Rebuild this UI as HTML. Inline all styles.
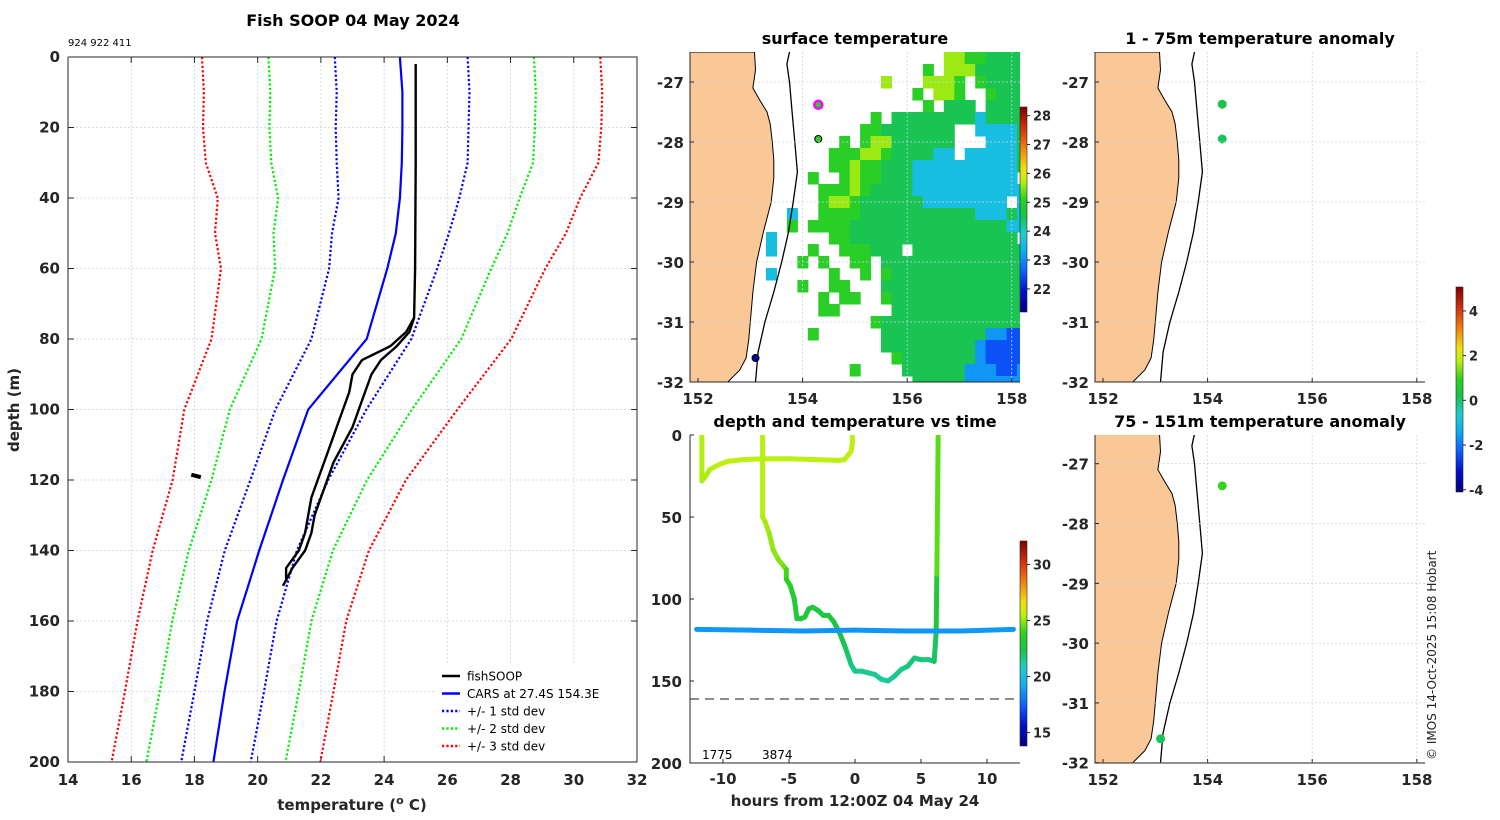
<!DOCTYPE html>
<html><head><meta charset="utf-8">
<style>
html,body{margin:0;padding:0;background:#fff;}
svg{display:block;font-family:"DejaVu Sans","Liberation Sans",sans-serif;}
.tk{font-size:15px;font-weight:bold;fill:#262626;}
.cb{font-size:13px;font-weight:bold;fill:#262626;}
.ttl{font-size:16px;font-weight:bold;fill:#000;}
</style></head>
<body>
<svg id="fig" width="1500" height="820" viewBox="0 0 1500 820" xmlns="http://www.w3.org/2000/svg">
<defs>
<clipPath id="clipMain"><rect x="68" y="57" width="569" height="705"/></clipPath>
<clipPath id="clipSST"><rect x="690" y="52" width="330" height="330"/></clipPath>
<clipPath id="clipA1"><rect x="1095" y="52" width="330" height="330"/></clipPath>
<clipPath id="clipA2"><rect x="1095" y="435" width="330" height="328"/></clipPath>
<clipPath id="clipTime"><rect x="690" y="435" width="330" height="328"/></clipPath>
</defs>
<g id="layer"></g>
<text x="353" y="26" text-anchor="middle" class="ttl">Fish SOOP 04 May 2024</text>
<text x="68" y="46" font-size="10" fill="#000">924 922 411</text>
<text x="855" y="44" text-anchor="middle" class="ttl">surface temperature</text>
<text x="1260" y="44" text-anchor="middle" class="ttl">1 - 75m temperature anomaly</text>
<text x="855" y="427" text-anchor="middle" class="ttl">depth and temperature vs time</text>
<text x="1260" y="427" text-anchor="middle" class="ttl">75 - 151m temperature anomaly</text>
<text x="352" y="810" text-anchor="middle" class="tk" font-size="16">temperature (<tspan font-size="11" dy="-6">o</tspan><tspan dy="6"> C)</tspan></text>
<text transform="translate(19,410) rotate(-90)" text-anchor="middle" class="tk" font-size="16">depth (m)</text>
<text x="855" y="806" text-anchor="middle" class="tk" font-size="16">hours from 12:00Z 04 May 24</text>
<text transform="translate(1436,760) rotate(-90)" font-size="12" fill="#222">© IMOS 14-Oct-2025 15:08 Hobart</text>
</svg>
<script>
// ---------- data ----------
const depthLevels = [0,10,20,30,40,50,60,80,100,120,140,160,180,200];
const climMean = [24.54,24.6,24.57,24.57,24.47,24.2,23.97,23.28,22.0,21.0,20.1,19.5,19.1,18.68];
const climStd  = [2.1,2.1,2.1,2.07,1.91,1.85,1.71,1.58,1.44,1.23,1.14,1.1,1.1,1.1];
const carsDepth = [0,10,20,30,40,50,60,80,100,120,140,150,160,180,200];
const carsTemp  = [24.5,24.58,24.58,24.56,24.5,24.37,24.1,23.45,21.6,20.8,20.05,19.7,19.35,18.95,18.6];
const fishDepth1 = [2,30,60,74,78,82,86,90,95,100,105,110,115,120,125,130,135,140,145,150];
const fishTemp1  = [25.0,25.0,24.98,24.95,24.8,24.4,23.9,23.6,23.4,23.2,23.0,22.7,22.4,22.2,22.0,21.8,21.7,21.5,21.1,20.8];
const fishDepth2 = [74,78,82,86,90,95,100,105,110,115,120,125,130,135,140,145,148];
const fishTemp2  = [24.95,24.7,24.2,23.3,23.0,22.9,22.7,22.5,22.3,22.1,21.9,21.7,21.6,21.5,21.3,20.9,20.9];
const blobDepth = [118.5,119.2];
const blobTemp  = [17.9,18.2];
const xTicks = [14,16,18,20,22,24,26,28,30,32];
const yTicks = [0,20,40,60,80,100,120,140,160,180,200];

const sstRows = [
"........................yyggGGGG",
"......................g.yyyGGGGG",
"..................y...yyyg.gGGGG",
".....................g.yyg..gGGG",
"......................g.GGG.GGGG",
".................g.GGGGGGGGcGGGG",
"................ggGGGGGGG..ccccG",
"..............g.gyyGGGGGG...cccG",
".............gggyygGGGGcc.cccccG",
".............ggyggGGGccccccccccG",
"...........g..gyggGGGcccccccccc.",
"............gggygGGGGccccccccccc",
"............gyygGGGGGGcccccccc.c",
".........c..ggggGGGGGGGGGGGcccGc",
".........g.ggggGGGGGGGGGGGGGGGcc",
".......c.....ggGGGGGGGGGGGGGGGG.",
".......c...g..gggGGG.GGGGGGGGGGG",
"..........g.g..gg.GGGGGGGGGGGGGG",
".......c.....g..g.gGGGGGGGGGGGGG",
"..........g..gg...GGGGGGGGGGGGGG",
"............g.gg..gGGGGGGGGGGGGG",
"............gg.....GGGGGGGGGGGGG",
".................gGGGGGGGGGGGGGG",
"...........g......GGGGGGGGGGbbBB",
"..................GGGGGGGGGbBBBB",
"...................gGGGGGGGbBBBB",
"...............g....GGGGGGbbbBBb",
".....................GGGGGbbbbbb"];
const sstCodes = {y:25.6,g:25.0,G:24.5,c:23.6,b:23.1,B:22.5};

const coastLat = [-26.5,-26.8,-27.1,-27.3,-27.5,-27.7,-28.0,-28.3,-28.6,-29.0,-29.5,-30.0,-30.5,-31.0,-31.3,-31.6,-31.8,-32.0];
const coastLon = [153.08,153.1,153.05,153.18,153.32,153.38,153.42,153.45,153.45,153.4,153.25,153.12,153.05,153.0,152.97,152.92,152.8,152.57];
const shelfLat = [-26.5,-26.7,-27.0,-27.5,-28.0,-28.5,-29.0,-29.5,-30.0,-30.5,-31.0,-31.5,-32.0];
const shelfLon = [153.75,153.7,153.75,153.8,153.85,153.9,153.82,153.73,153.6,153.45,153.28,153.15,153.1];

const sstPtLon = [154.3,154.3,153.1];
const sstPtLat = [-27.38,-27.95,-31.6];
const sstPtVal = [25.0,25.1,21.5];
const anomShallowLon = [154.28,154.28];
const anomShallowLat = [-27.37,-27.95];
const anomShallowVal = [0.2,0.1];
const anomDeepLon = [154.28,153.1];
const anomDeepLat = [-27.37,-31.6];
const anomDeepVal = [1.0,0.1];

const traceAHour = [-11.6,-11.6,-11.3,-11,-10.3,-9.6,-8.5,-7,-5,-3,-1.2,-0.8,-0.5,-0.3,-0.2,-0.2];
const traceADepth = [0,28,25,21,18,16,15,14.5,14.5,15,15.5,15,12,10,5,0];
const traceATemp = [25.5,25.3,25.3,25.4,25.5,25.5,25.5,25.5,25.5,25.5,25.5,25.5,25.5,25.5,25.5,25.5];
const traceBHour = [-7,-7,-6.8,-6.5,-6.2,-5.8,-5.4,-5.2,-5.2,-4.9,-4.6,-4.4,-4.1,-3.8,-3.5,-3.2,-2.8,-2.4,-2,-1.6,-1.2,-0.8,-0.5,-0.3,0,0.5,1,1.5,2,2.5,3,3.5,4,4.5,5,5.6,6,6.15,6.2,6.3];
const traceBDepth = [0,50,53,60,70,76,80,82,88,92,100,112,112,111,106,105,107,110,110,114,120,128,135,140,144,144,145,146,149,150,147,143,141,136,137,137,138,120,85,0];
const traceBTemp = [25.5,25.4,25.3,25.1,25.0,24.9,24.7,24.5,23.8,23.6,23.3,22.9,22.9,22.9,23.0,23.0,22.9,22.8,22.8,22.7,22.5,22.2,22.0,21.8,21.6,21.6,21.6,21.5,21.4,21.4,21.5,21.6,21.7,21.8,21.8,21.8,21.8,22.5,23.5,25.3];
const traceCHour = [-12,-8,-4,0,4,8,12];
const traceCDepth = [118.5,119,119.5,119,119.5,119.5,118.5];
const traceCTemp = [18.8,18.7,18.7,18.6,18.7,18.7,18.8];
const timeXTicks = [-10,-5,0,5,10];
const timeYTicks = [0,50,100,150,200];
const mapLonTicks = [152,154,156,158];
const mapLatTicks = [-27,-28,-29,-30,-31,-32];
const sstCbTicks = [22,23,24,25,26,27,28];
const timeCbTicks = [15,20,25,30];
const anomCbTicks = [-4,-2,0,2,4];

// ---------- helpers ----------
const NS = "http://www.w3.org/2000/svg";
const L = document.getElementById('layer');
function mk(tag, attrs, parent){
  const e = document.createElementNS(NS, tag);
  for (const k in attrs) e.setAttribute(k, attrs[k]);
  (parent||L).appendChild(e);
  return e;
}
const cmapStops = [[0,[0,0,128]],[0.1,[0,16,200]],[0.2,[16,96,255]],[0.3,[16,176,240]],[0.38,[30,205,205]],[0.47,[25,195,75]],[0.55,[45,210,30]],[0.64,[190,240,16]],[0.7,[240,224,16]],[0.8,[240,128,16]],[0.9,[208,48,16]],[1,[128,0,0]]];
function cmap(t){
  t = Math.max(0, Math.min(1, t));
  for (let i=1;i<cmapStops.length;i++){
    if (t <= cmapStops[i][0]){
      const a = cmapStops[i-1], b = cmapStops[i];
      const f = (t-a[0])/(b[0]-a[0]);
      const c = a[1].map((v,j)=>Math.round(v+(b[1][j]-v)*f));
      return 'rgb('+c.join(',')+')';
    }
  }
  return 'rgb(128,0,0)';
}
const defs = document.querySelector('defs');
const grad = mk('linearGradient',{id:'jet',x1:'0',y1:'1',x2:'0',y2:'0'},defs);
cmapStops.forEach(s=>mk('stop',{offset:s[0],'stop-color':cmap(s[0])},grad));

// ---------- main profile plot ----------
const mx = t => 68 + (t-14)*(569/18);
const my = d => 57 + d*(705/200);
const gMain = mk('g',{});


xTicks.forEach(t=>{
  const g = mk('line',{x1:mx(t),x2:mx(t),y1:57,y2:762,stroke:'#c8d2ea','stroke-width':0.8,'stroke-dasharray':'2,2'},gMain);
  
  
  const tx = mk('text',{x:mx(t),y:785,'text-anchor':'middle',class:'tk'},gMain);
  tx.textContent = t;
  
  
  mk('line',{x1:mx(t),x2:mx(t),y1:762,y2:756,stroke:'#262626'},gMain);
  mk('line',{x1:mx(t),x2:mx(t),y1:57,y2:63,stroke:'#262626'},gMain);
});
yTicks.forEach(d=>{
  const g = mk('line',{x1:68,x2:637,y1:my(d),y2:my(d),stroke:'#c8d2ea','stroke-width':0.8,'stroke-dasharray':'2,2'},gMain);
  
  
  const tx = mk('text',{x:60,y:my(d)+5,'text-anchor':'end',class:'tk'},gMain);
  tx.textContent = d;
  
  
  mk('line',{x1:68,x2:74,y1:my(d),y2:my(d),stroke:'#262626'},gMain);
  mk('line',{x1:637,x2:631,y1:my(d),y2:my(d),stroke:'#262626'},gMain);
});
const gLines = mk('g',{'clip-path':'url(#clipMain)'},gMain);
function poly(xs, ys, fx, fy){ return xs.map((v,i)=>fx(v).toFixed(1)+','+fy(ys[i]).toFixed(1)).join(' '); }
const stdColors = ['#0000ff','#00ee00','#ff0000'];
[3,2,1].forEach(n=>{
  [-1,1].forEach(sg=>{
    const temps = climMean.map((m,i)=>m+sg*n*climStd[i]);
    const p = mk('polyline',{points:poly(temps,depthLevels,mx,my),fill:'none',stroke:stdColors[n-1],'stroke-width':2.2,'stroke-dasharray':'2.2,2.2'},gLines);
    
    
  });
});
const cars = mk('polyline',{points:poly(carsTemp,carsDepth,mx,my),fill:'none',stroke:'#0000ff','stroke-width':2.2},gLines);


const f1 = mk('polyline',{points:poly(fishTemp1,fishDepth1,mx,my),fill:'none',stroke:'#000','stroke-width':2.4},gLines);


const f2 = mk('polyline',{points:poly(fishTemp2,fishDepth2,mx,my),fill:'none',stroke:'#000','stroke-width':2.4},gLines);


const f3 = mk('polyline',{points:poly(blobTemp,blobDepth,mx,my),fill:'none',stroke:'#000','stroke-width':4},gLines);


mk('polyline',{points:'68,57 68,762 637,762 637,57 68,57',fill:'none',stroke:'#262626','stroke-width':1},gMain);

const lg = mk('g',{});


mk('rect',{x:437,y:665,width:199,height:96,fill:'#fff',stroke:'#fff'},lg);
const legItems = [['fishSOOP','#000',''],['CARS at 27.4S 154.3E','#0000ff',''],['+/- 1 std dev','#0000ff','2.2,2.2'],['+/- 2 std dev','#00ee00','2.2,2.2'],['+/- 3 std dev','#ff0000','2.2,2.2']];
legItems.forEach((it,i)=>{
  const y = 676 + i*17.5;
  const ln = mk('line',{x1:442,x2:460,y1:y,y2:y,stroke:it[1],'stroke-width':2.4,'stroke-dasharray':it[2]||'none'},lg);
  
  
  const t = mk('text',{x:467,y:y+4.5,'font-size':12,fill:'#000'},lg);
  t.textContent = it[0];
  
  
});

// ---------- maps ----------
function drawMap(x0, y0, h, clipId, name){
  const lonX = lon => x0 + 8 + (lon-152)*52.3;
  const latY = lat => y0 + (-26.5 - lat)*(h/5.5);
  const g = mk('g',{});
  
  
  const inner = mk('g',{'clip-path':'url(#'+clipId+')'},g);
  return {g, inner, lonX, latY};
}
function mapFrame(m, x0, y0, h){
  const {g, lonX, latY} = m;
  mapLonTicks.forEach(lon=>{
    if (lon>152){
      const gl = mk('line',{x1:lonX(lon),x2:lonX(lon),y1:y0,y2:y0+h,stroke:'#c8d2ea','stroke-width':0.8,'stroke-dasharray':'2,2'},g);
      
      
    }
    mk('line',{x1:lonX(lon),x2:lonX(lon),y1:y0+h,y2:y0+h-4,stroke:'#262626'},g);
    const t = mk('text',{x:lonX(lon),y:y0+h+22,'text-anchor':'middle',class:'tk'},g);
    t.textContent = lon;
    
    
  });
  mapLatTicks.forEach(lat=>{
    const gl = mk('line',{x1:x0,x2:x0+330,y1:latY(lat),y2:latY(lat),stroke:'#c8d2ea','stroke-width':0.8,'stroke-dasharray':'2,2'},g);
    
    
    mk('line',{x1:x0,x2:x0+4,y1:latY(lat),y2:latY(lat),stroke:'#262626'},g);
    const t = mk('text',{x:x0-6,y:latY(lat)+6,'text-anchor':'end',class:'tk'},g);
    t.textContent = lat;
    
    
  });
  mk('polyline',{points:`${x0},${y0} ${x0},${y0+h} ${x0+330},${y0+h}`,fill:'none',stroke:'#262626','stroke-width':1},g);
}
function drawCoast(m){
  const {inner, lonX, latY} = m;
  let pts = coastLat.map((la,i)=>lonX(coastLon[i]).toFixed(1)+','+latY(la).toFixed(1));
  const x0 = lonX(151.5);
  const land = mk('polygon',{points:x0+','+latY(-26.5)+' '+pts.join(' ')+' '+x0+','+latY(-32.2),fill:'#f9c896',stroke:'#000','stroke-width':1},inner);
  
  
  const sh = mk('polyline',{points:poly(shelfLon,shelfLat,lonX,latY),fill:'none',stroke:'#000','stroke-width':1.3},inner);
  
  
}

const sst = drawMap(690,52,330,'clipSST','sst-map');
const sstMin = 21.2, sstMax = 28.3;
sstRows.forEach((row,r)=>{
  for (let c=0;c<row.length;c++){
    const ch = row[c];
    if (ch==='.') continue;
    const v = sstCodes[ch];
    const lon = 151.9 + 0.2*c, lat = -26.5 - 0.2*r;
    const x1 = sst.lonX(lon), x2 = sst.lonX(lon+0.2), y1 = sst.latY(lat), y2 = sst.latY(lat-0.2);
    const cell = mk('rect',{x:x1.toFixed(1),y:y1.toFixed(1),width:(x2-x1+0.5).toFixed(1),height:(y2-y1+0.5).toFixed(1),fill:cmap((v-sstMin)/(sstMax-sstMin))},sst.inner);
    
    
  }
});
drawCoast(sst);
sstPtLon.forEach((lon,i)=>{
  const pt = mk('circle',{cx:sst.lonX(lon),cy:sst.latY(sstPtLat[i]),r:i===0?4:3.5,fill:cmap((sstPtVal[i]-sstMin)/(sstMax-sstMin)),stroke:i===0?'#ff00ff':'#000','stroke-width':i===0?2.5:1},sst.inner);
  
  
});
mapFrame(sst,690,52,330);

const anMin = -4.1, anMax = 5.07;
const a1 = drawMap(1095,52,330,'clipA1','anomaly-shallow-map');
drawCoast(a1);
anomShallowLon.forEach((lon,i)=>{
  const pt = mk('circle',{cx:a1.lonX(lon),cy:a1.latY(anomShallowLat[i]),r:4.5,fill:cmap((anomShallowVal[i]-anMin)/(anMax-anMin))},a1.inner);
  
  
});
mapFrame(a1,1095,52,330);
const a2 = drawMap(1095,435,328,'clipA2','anomaly-deep-map');
a2.latY = lat => 435 + (-26.52 - lat)*59.8;
drawCoast(a2);
anomDeepLon.forEach((lon,i)=>{
  const pt = mk('circle',{cx:a2.lonX(lon),cy:a2.latY(anomDeepLat[i]),r:4.5,fill:cmap((anomDeepVal[i]-anMin)/(anMax-anMin))},a2.inner);
  
  
});
mapFrame(a2,1095,435,328);

// ---------- time plot ----------
const tx = h => 855 + h*13.2;
const ty = d => 435 + d*1.64;
const gT = mk('g',{});


const tIn = mk('g',{'clip-path':'url(#clipTime)'},gT);
const tMin = 13.8, tMax = 32.1;
function drawTrace(hs, ds, ts, name){
  for (let i=1;i<hs.length;i++){
    const s = mk('line',{x1:tx(hs[i-1]),y1:ty(ds[i-1]),x2:tx(hs[i]),y2:ty(ds[i]),stroke:cmap(((ts[i-1]+ts[i])/2-tMin)/(tMax-tMin)),'stroke-width':5,'stroke-linecap':'round'},tIn);
    
    
  }
}
drawTrace(traceAHour,traceADepth,traceATemp,'trace-surface-segment');
drawTrace(traceBHour,traceBDepth,traceBTemp,'trace-deep-segment');
drawTrace(traceCHour,traceCDepth,traceCTemp,'trace-fixed-segment');
const dash = mk('line',{x1:690,x2:1020,y1:ty(161),y2:ty(161),stroke:'#666','stroke-width':1.5,'stroke-dasharray':'9,6'},gT);


timeXTicks.forEach(h=>{
  mk('line',{x1:tx(h),x2:tx(h),y1:763,y2:759,stroke:'#262626'},gT);
  const t = mk('text',{x:tx(h),y:784,'text-anchor':'middle',class:'tk'},gT);
  t.textContent = h;
  
  
});
timeYTicks.forEach(d=>{
  mk('line',{x1:690,x2:694,y1:ty(d),y2:ty(d),stroke:'#262626'},gT);
  const t = mk('text',{x:682,y:ty(d)+6,'text-anchor':'end',class:'tk'},gT);
  t.textContent = d;
  
  
});
[['1775',702],['3874',762]].forEach(a=>{
  const t = mk('text',{x:a[1],y:759,'font-size':12,fill:'#000'},gT);
  t.textContent = a[0];
  
  
});
mk('polyline',{points:'690,435 690,763 1020,763',fill:'none',stroke:'#262626','stroke-width':1},gT);

// ---------- colorbars ----------
function colorbar(x, y0, y1, vMin, vMax, ticks, name){
  const g = mk('g',{});
  
  
  mk('rect',{x:x,y:y0,width:7,height:y1-y0,fill:'url(#jet)',stroke:'#262626','stroke-width':0.6},g);
  ticks.forEach(v=>{
    const y = y1 - (v-vMin)/(vMax-vMin)*(y1-y0);
    mk('line',{x1:x+7,x2:x+10,y1:y,y2:y,stroke:'#262626'},g);
    const t = mk('text',{x:x+13,y:y+5,class:'cb'},g);
    t.textContent = v;
    
    
  });
}
colorbar(1020,107,312,sstMin,sstMax,sstCbTicks,'sst-colorbar');
colorbar(1020,541,746,tMin,tMax,timeCbTicks,'time-colorbar');
colorbar(1456,287,492,anMin,anMax,anomCbTicks,'anomaly-colorbar');
</script>
</body></html>
